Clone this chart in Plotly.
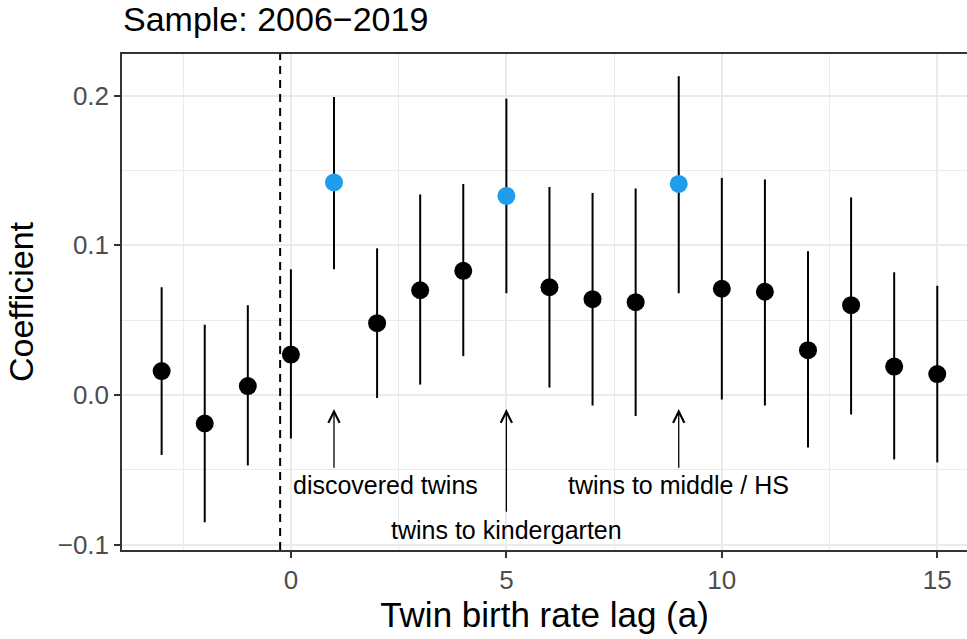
import plotly.graph_objects as go

# Event-study estimates by twin birth rate lag
lag = list(range(-3, 16))
coef = [0.016, -0.019, 0.006, 0.027, 0.142, 0.048, 0.070, 0.083, 0.133, 0.072,
        0.064, 0.062, 0.141, 0.071, 0.069, 0.030, 0.060, 0.019, 0.014]
ci_lo = [-0.040, -0.085, -0.047, -0.029, 0.084, -0.002, 0.007, 0.026, 0.068, 0.005,
         -0.007, -0.014, 0.068, -0.003, -0.007, -0.035, -0.013, -0.043, -0.045]
ci_hi = [0.072, 0.047, 0.060, 0.084, 0.199, 0.098, 0.134, 0.141, 0.198, 0.139,
         0.135, 0.138, 0.213, 0.145, 0.144, 0.096, 0.132, 0.082, 0.073]
highlight_lags = [1, 5, 9]

# Annotated events: (label, text x, text y, arrow x, arrow tail y, arrow head y)
event_labels = ["discovered twins", "twins to kindergarten", "twins to middle / HS"]
label_x = [2.2, 5, 9]
label_y = [-0.060, -0.090, -0.060]
arrow_x = [1, 5, 9]
arrow_tail = [-0.0495, -0.079, -0.0495]
arrow_head = [-0.0094, -0.0094, -0.0094]

x_ticks = [0, 5, 10, 15]
y_ticks = [-0.1, 0.0, 0.1, 0.2]
x_range = [-3.92, 15.69]
y_range = [-0.1035, 0.2278]
treatment_line = -0.25

FONT = "Liberation Sans, Arial, Helvetica, sans-serif"
BLUE = "#1F9CEC"

colors = [BLUE if l in highlight_lags else "black" for l in lag]
err_plus = [h - c for h, c in zip(ci_hi, coef)]
err_minus = [c - lo for c, lo in zip(coef, ci_lo)]

fig = go.Figure()
fig.add_trace(go.Scatter(
    x=lag, y=coef, mode="markers",
    marker=dict(size=18, color=colors, line=dict(width=0)),
    error_y=dict(type="data", symmetric=False, array=err_plus, arrayminus=err_minus,
                 width=0, thickness=2, color="black"),
    showlegend=False, hoverinfo="x+y",
))

shapes = [
    dict(type="line", xref="x", yref="paper", x0=treatment_line, x1=treatment_line,
         y0=0, y1=1, line=dict(color="black", width=2, dash="8px,6px"), layer="above"),
    dict(type="line", xref="paper", yref="y", x0=0, x1=1, y0=0, y1=0,
         line=dict(color="black", width=2), layer="below"),
]

annotations = []
for ax_, t, h in zip(arrow_x, arrow_tail, arrow_head):
    annotations.append(dict(
        x=ax_, y=h, ax=ax_, ay=t, xref="x", yref="y", axref="x", ayref="y",
        text="", showarrow=True, arrowhead=5, arrowsize=1.7, arrowwidth=1.3,
        arrowcolor="black", standoff=0, startstandoff=0,
    ))
for txt, tx, ty in zip(event_labels, label_x, label_y):
    annotations.append(dict(
        x=tx, y=ty, xref="x", yref="y", text=txt, showarrow=False,
        font=dict(family=FONT, size=25, color="black"),
        xanchor="center", yanchor="middle",
    ))

axis_common = dict(
    showgrid=True, gridcolor="#EBEBEB", gridwidth=2,
    ticks="outside", ticklen=6, tickwidth=1.5, tickcolor="#333333",
    tickfont=dict(family=FONT, size=26, color="#4D4D4D"),
    showline=True, linecolor="#333333", linewidth=1.5,
    zeroline=False,
)

fig.update_layout(
    width=967, height=639,
    margin=dict(l=122, r=0, t=54, b=89),
    paper_bgcolor="white", plot_bgcolor="white",
    font=dict(family=FONT, color="black"),
    title=dict(text="Sample: 2006\u22122019", x=123 / 967, xanchor="left",
               xref="container", y=1 - 19 / 639, yanchor="middle", yref="container",
               font=dict(family=FONT, size=34, color="black")),
    xaxis=dict(range=x_range, tickvals=x_ticks, mirror=True,
               minor=dict(dtick=2.5, tick0=0, showgrid=True, gridcolor="#EBEBEB", gridwidth=1),
               title=dict(text="Twin birth rate lag (a)", standoff=5,
                          font=dict(family=FONT, size=35, color="black")),
               **axis_common),
    yaxis=dict(range=y_range, tickvals=y_ticks, tickformat=".1f", mirror=False,
               minor=dict(dtick=0.05, tick0=0, showgrid=True, gridcolor="#EBEBEB", gridwidth=1),
               title=dict(text="Coefficient", standoff=14,
                          font=dict(family=FONT, size=34, color="black")),
               **axis_common),
    shapes=shapes,
    annotations=annotations,
)

fig.write_html("out.html")
